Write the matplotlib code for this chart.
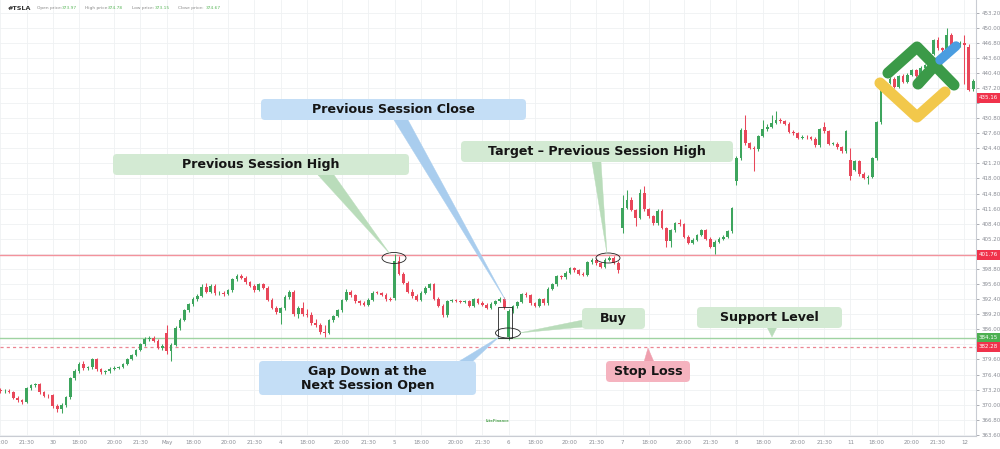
import matplotlib
matplotlib.use('Agg')
import matplotlib.pyplot as plt
from matplotlib.patches import FancyBboxPatch, Ellipse, Rectangle, Polygon
from matplotlib.transforms import IdentityTransform
import numpy as np

# ---------------- data (15-minute candles, TSLA) ----------------
opens = [373.2, 372.8, 373.0, 372.7, 371.5, 370.9, 370.6, 373.5, 374.1, 374.3, 372.6, 371.9,
         372.0, 369.7, 369.0, 369.9, 371.6, 375.6, 377.1, 378.6, 377.8, 377.9, 379.6, 377.5, 376.9, 377.1, 377.6, 377.8, 378.0, 378.7, 379.7, 380.6, 381.6, 382.8, 383.9, 384.1, 383.6, 382.1,
         385.2, 381.3, 382.7, 386.3, 388.0, 390.0, 391.3, 392.5, 393.1, 395.0, 394.0, 395.2, 393.6, 393.8, 393.5, 394.3, 396.6, 397.4, 396.9, 396.0, 395.2, 394.4, 395.5, 394.8, 392.2, 390.5,
         389.4, 390.5, 392.8, 394.0, 389.2, 390.5, 389.2, 389.0, 387.4, 386.8, 385.5, 385.2, 387.9, 388.8, 390.0, 392.2, 393.9, 393.2, 391.9, 391.5, 391.2, 392.3, 393.8, 393.7, 393.3, 392.4,
         392.6, 400.4, 397.8, 395.8, 394.0, 393.0, 392.2, 393.8, 394.8, 395.5, 392.5, 391.0, 389.0, 392.0, 392.1, 392.0, 391.8, 392.0, 391.0, 392.4, 391.6, 391.2, 390.5, 391.4, 392.0, 392.5,
         384.4, 389.8, 390.9, 391.8, 393.5, 393.2, 391.5, 391.0, 392.4, 391.5, 394.6, 395.5, 397.2, 397.0, 398.0, 399.0, 398.5, 397.8, 397.5, 400.2, 400.8, 400.0, 399.2, 400.8, 401.2, 400.1,
         407.5, 411.8, 413.5, 411.3, 409.7, 415.0, 411.5, 410.0, 408.5, 411.2, 407.5, 404.8, 407.0, 408.5, 408.3, 405.6, 404.3, 405.0, 406.0, 407.0, 405.2, 403.5, 404.6, 405.2, 405.6, 406.8,
         417.5, 422.3, 428.3, 425.5, 424.5, 424.2, 427.0, 428.4, 429.0, 429.8, 430.5, 430.1, 429.6, 427.9, 427.6, 426.6, 426.9, 426.7, 426.4, 425.0, 429.0, 428.0, 425.3, 425.4, 424.6, 423.8,
         422.0, 419.8, 421.6, 419.0, 418.1, 418.4, 422.3, 429.9, 437.5, 438.3, 439.2, 437.4, 439.7, 438.5, 440.0, 441.0, 439.8, 441.5, 442.0, 444.5, 447.3, 445.6, 445.2, 448.5, 445.6, 446.5,
         446.8, 446.0, 437.0]
closes = [372.8, 373.0, 372.7, 371.5, 370.9, 370.6, 373.5, 374.1, 374.3, 372.6, 371.9, 371.8,
          369.7, 369.0, 369.9, 371.6, 375.6, 377.1, 378.6, 377.8, 377.9, 379.6, 377.5, 376.9, 377.1, 377.6, 377.8, 378.0, 378.7, 379.7, 380.6, 381.6, 382.8, 383.9, 384.1, 383.6, 382.1, 382.4,
          381.3, 382.7, 386.3, 388.0, 390.0, 391.3, 392.5, 393.1, 395.0, 394.0, 395.2, 393.6, 393.8, 393.5, 394.3, 396.6, 397.4, 396.9, 396.0, 395.2, 394.4, 395.5, 394.8, 392.2, 390.5, 389.6,
          390.5, 392.8, 394.0, 389.2, 390.5, 389.2, 389.0, 387.4, 386.8, 385.5, 385.2, 387.9, 388.8, 390.0, 392.2, 393.9, 393.2, 391.9, 391.5, 391.2, 392.3, 393.8, 393.7, 393.3, 392.4, 392.3,
          400.4, 397.8, 395.8, 394.0, 393.0, 392.2, 393.8, 394.8, 395.5, 392.5, 391.0, 389.0, 392.0, 392.1, 392.0, 391.8, 392.0, 391.0, 392.4, 391.6, 391.2, 390.5, 391.4, 392.0, 392.5, 390.7,
          389.8, 390.9, 391.8, 393.5, 393.2, 391.5, 391.0, 392.4, 391.5, 394.6, 395.5, 397.2, 397.0, 398.0, 399.0, 398.5, 397.8, 397.5, 400.2, 400.8, 400.0, 399.2, 400.8, 401.2, 400.1, 398.6,
          411.8, 413.5, 411.3, 409.7, 415.0, 411.5, 410.0, 408.5, 411.2, 407.5, 404.8, 407.0, 408.5, 408.3, 405.6, 404.3, 405.0, 406.0, 407.0, 405.2, 403.5, 404.6, 405.2, 405.6, 406.8, 411.7,
          422.3, 428.3, 425.5, 424.5, 424.2, 427.0, 428.4, 429.0, 429.8, 430.5, 430.1, 429.6, 427.9, 427.6, 426.6, 426.9, 426.7, 426.4, 425.0, 428.5, 428.0, 425.3, 425.4, 424.6, 423.8, 428.0,
          418.6, 421.6, 419.0, 418.1, 418.4, 422.3, 429.9, 437.5, 438.3, 439.2, 437.4, 439.7, 438.5, 440.0, 441.0, 439.8, 441.5, 442.0, 444.5, 447.3, 445.6, 445.2, 448.5, 445.6, 446.5, 446.8,
          446.3, 436.8, 438.6]
highs = [373.6, 373.4, 373.3, 373.0, 371.8, 371.2, 373.8, 374.4, 374.6, 374.5, 372.9, 372.3,
         372.3, 370.2, 370.3, 371.9, 375.9, 377.5, 379.0, 379.3, 378.3, 380.0, 379.9, 377.8, 377.4, 377.9, 378.1, 378.3, 378.9, 380.0, 380.8, 381.9, 383.1, 384.3, 384.6, 384.5, 383.9, 382.8,
         386.9, 383.1, 386.6, 388.3, 390.3, 391.6, 392.8, 393.4, 395.6, 395.9, 395.6, 395.5, 394.2, 394.1, 394.5, 396.9, 397.8, 397.7, 397.2, 396.3, 395.6, 395.8, 395.9, 395.1, 392.6, 391.0,
         390.8, 393.2, 394.4, 394.3, 390.9, 391.8, 390.3, 389.6, 388.1, 387.3, 386.8, 388.2, 389.1, 390.3, 392.5, 394.6, 394.3, 393.5, 392.2, 391.9, 392.6, 394.1, 394.2, 394.0, 393.6, 392.8,
         401.9, 401.6, 398.2, 396.2, 394.5, 393.5, 394.1, 395.2, 395.9, 395.8, 392.8, 391.3, 392.3, 392.4, 392.4, 392.3, 392.3, 392.3, 392.7, 392.7, 391.9, 391.5, 391.7, 392.3, 392.8, 392.8,
         390.2, 391.2, 392.1, 393.8, 393.9, 393.5, 391.8, 392.7, 392.7, 394.9, 395.8, 397.5, 397.5, 398.3, 399.3, 399.3, 398.8, 398.1, 400.5, 401.1, 401.1, 400.3, 401.1, 401.6, 401.5, 400.4,
         414.5, 415.5, 414.0, 411.6, 415.8, 416.3, 411.8, 410.3, 411.5, 411.5, 407.8, 407.3, 408.8, 409.4, 408.6, 405.9, 405.3, 406.3, 407.3, 407.3, 405.5, 404.9, 405.5, 405.9, 407.1, 412.0,
         422.8, 428.8, 431.5, 425.8, 424.8, 427.3, 430.5, 429.6, 431.5, 432.3, 430.8, 430.4, 429.9, 428.2, 427.9, 427.2, 427.2, 427.0, 426.7, 428.8, 430.0, 428.3, 425.8, 425.7, 424.9, 428.3,
         424.5, 421.9, 421.9, 419.3, 418.7, 422.6, 430.2, 438.0, 438.7, 439.5, 439.6, 440.0, 440.1, 440.3, 441.3, 441.3, 441.8, 442.3, 444.8, 447.6, 448.1, 446.0, 449.9, 448.8, 446.8, 447.2,
         448.5, 446.5, 439.0]
lows = [372.5, 372.4, 372.4, 371.2, 370.6, 370.2, 370.4, 373.2, 373.8, 372.3, 371.6, 371.5,
        369.3, 368.4, 368.2, 369.5, 371.3, 375.2, 376.8, 377.4, 377.4, 377.6, 377.2, 376.6, 376.6, 376.8, 377.3, 377.5, 377.8, 378.4, 379.4, 380.3, 381.3, 382.5, 383.5, 383.2, 381.8, 381.7,
        380.8, 379.3, 382.4, 385.9, 387.7, 389.6, 391.0, 392.1, 392.8, 393.6, 393.7, 393.3, 393.2, 393.1, 393.2, 394.0, 396.3, 396.6, 395.7, 394.9, 394.0, 394.1, 394.5, 391.9, 390.2, 389.3,
        387.2, 390.1, 392.4, 388.9, 388.4, 388.8, 388.7, 387.0, 386.5, 385.1, 384.4, 384.9, 387.6, 388.5, 389.7, 391.9, 392.9, 391.6, 391.2, 390.9, 390.9, 392.0, 393.4, 393.0, 392.1, 392.0,
        392.2, 397.5, 395.5, 393.7, 392.7, 391.9, 391.9, 393.5, 394.4, 392.2, 390.7, 388.6, 388.7, 391.7, 391.7, 391.5, 391.5, 390.7, 390.7, 391.3, 390.9, 390.2, 390.2, 391.1, 391.7, 390.4,
        383.8, 389.4, 390.6, 391.5, 392.9, 391.2, 390.7, 390.7, 391.2, 391.2, 394.3, 395.2, 396.7, 396.7, 397.7, 398.2, 397.5, 397.2, 397.2, 399.9, 399.7, 398.9, 398.9, 400.5, 399.8, 398.0,
        406.5, 411.5, 411.0, 408.0, 409.4, 411.2, 409.7, 408.2, 408.2, 407.2, 403.4, 403.5, 406.7, 408.0, 405.3, 404.0, 404.0, 404.7, 405.7, 404.9, 403.2, 402.0, 404.3, 404.9, 405.3, 406.5,
        416.6, 422.0, 425.2, 424.2, 419.6, 423.9, 426.7, 428.1, 428.7, 429.5, 429.8, 429.3, 427.6, 427.3, 426.3, 426.3, 426.4, 426.1, 424.7, 424.7, 427.7, 425.0, 425.0, 424.3, 423.5, 423.5,
        417.6, 419.5, 418.6, 417.8, 416.9, 418.1, 422.0, 429.6, 437.2, 438.0, 437.1, 437.1, 438.2, 438.2, 439.7, 439.5, 439.5, 441.2, 441.7, 444.2, 445.3, 443.0, 444.9, 445.3, 445.3, 446.0,
        438.0, 436.5, 436.6]

tick_idx = [0, 6, 12, 18, 26, 32, 38, 44, 52, 58, 64, 70, 78, 84, 90, 96, 104, 110,
            116, 122, 130, 136, 142, 148, 156, 162, 168, 174, 182, 188, 194, 200, 208, 214, 220]
tick_labels = ['20:00', '21:30', '30', '18:00', '20:00', '21:30', 'May', '18:00', '20:00', '21:30',
               '4', '18:00', '20:00', '21:30', '5', '18:00', '20:00', '21:30',
               '6', '18:00', '20:00', '21:30', '7', '18:00', '20:00', '21:30',
               '8', '18:00', '20:00', '21:30', '11', '18:00', '20:00', '21:30', '12']
ytick_vals = [363.6, 366.8, 370.0, 373.2, 376.4, 379.6, 382.8, 386.0, 389.2, 392.4, 395.6, 398.8,
              402.0, 405.2, 408.4, 411.6, 414.8, 418.0, 421.2, 424.4, 427.6, 430.8, 434.0, 437.2,
              440.4, 443.6, 446.8, 450.0, 453.2]
# tick values whose labels are hidden behind the price tags
hidden_ticks = [382.8, 402.0, 434.0]

prev_high = 401.76
support = 384.15
stop_loss = 382.28
last_price = 435.16

# ---------------- figure ----------------
W, H = 1000, 449
fig = plt.figure(figsize=(W / 100, H / 100), dpi=100)
fig.patch.set_facecolor('white')
ax = fig.add_axes([0, 1 - 436 / H, 0.976, 436 / H])
ax.set_facecolor('white')

o = np.array(opens); c = np.array(closes); hi = np.array(highs); lo = np.array(lows)
n = len(c)
x = np.arange(n)
UP, DN = '#3da55d', '#e8475a'
cols = np.where(c >= o, UP, DN)

ax.set_xlim(-0.05, 222.65)
ax.set_ylim(363.35, 455.87)

ax.grid(True, color='#eff1f3', lw=0.6, zorder=0)
ax.set_axisbelow(True)

ax.vlines(x, lo, hi, colors=cols, lw=0.75, zorder=3)
ax.bar(x, np.maximum(np.abs(c - o), 0.12), bottom=np.minimum(o, c), width=0.62,
       color=cols, linewidth=0, zorder=4)

ax.axhline(prev_high, color='#f3929c', lw=1.0, zorder=2)
ax.axhline(support, color='#9fd3a2', lw=1.0, zorder=2)
ax.axhline(stop_loss, color='#ec8592', lw=0.9, ls=(0, (2.5, 2.5)), zorder=2)

ax.set_xticks(tick_idx)
ax.set_xticklabels(tick_labels)
ax.set_yticks(ytick_vals)
ax.set_yticklabels(['' if v in hidden_ticks else f'{v:.2f}' for v in ytick_vals])
ax.yaxis.tick_right()
ax.tick_params(axis='both', labelsize=4.0, colors='#8a8d95', length=2, width=0.5, pad=2)
ax.tick_params(axis='x', length=0, pad=3)
for s in ['top', 'left']:
    ax.spines[s].set_visible(False)
for s in ['right', 'bottom']:
    ax.spines[s].set_color('#c9ccd3')
    ax.spines[s].set_linewidth(0.8)

ID = IdentityTransform()

def P(xp, yp):
    return (xp, H - yp)

# price labels on right axis
def price_tag(val, color):
    yd = ax.transData.transform((0, val))[1]
    r = Rectangle((977, yd - 5), 24, 10, transform=ID, facecolor=color, edgecolor='none',
                  zorder=10, clip_on=False)
    fig.patches.append(r)
    fig.text(979, yd, f'{val:.2f}', transform=ID, fontsize=4.0,
             color='white', va='center', ha='left', zorder=11)

price_tag(prev_high, '#f0324b')
price_tag(support, '#4caf50')
price_tag(stop_loss, '#f0324b')
price_tag(last_price, '#f0324b')

# header
fig.text(8, H - 8, '#TSLA', transform=ID, fontsize=4.6, fontweight='bold', color='#333333', va='center')
hdr = [(37, 'Open price:', 62, '373.97'), (85, 'High price:', 108, '374.78'),
       (132, 'Low price:', 155, '373.15'), (178, 'Close price:', 206, '374.67')]
for x1, t1, x2, t2 in hdr:
    fig.text(x1, H - 8, t1, transform=ID, fontsize=3.2, color='#888888', va='center')
    fig.text(x2, H - 8, t2, transform=ID, fontsize=3.2, color='#5cb85c', va='center')

# annotation boxes
GREEN_BOX, BLUE_BOX, PINK_BOX = '#d3ead3', '#c4def6', '#f5b3bf'
GREEN_PTR, BLUE_PTR, PINK_PTR = '#b9dcba', '#a9cdee', '#ef9fae'
FONT = dict(fontsize=9.1, fontweight='bold', color='#151515', family='DejaVu Sans')

def box(x0, y0, x1, y1, fc, text):
    b = FancyBboxPatch(P(x0, y1), x1 - x0, y1 - y0, boxstyle='round,pad=0,rounding_size=4',
                       transform=ID, facecolor=fc, edgecolor='none', zorder=20)
    fig.patches.append(b)
    fig.text((x0 + x1) / 2, H - (y0 + y1) / 2, text, transform=ID, ha='center', va='center',
             zorder=21, linespacing=1.1, **FONT)

def ptr(pts, fc):
    poly = Polygon([P(*p) for p in pts], closed=True, transform=ID, facecolor=fc,
                   edgecolor=fc, lw=0.3, zorder=19)
    fig.patches.append(poly)

ptr([(394, 120), (408, 120), (506, 301)], BLUE_PTR)
ptr([(318, 175), (334, 175), (390, 254)], GREEN_PTR)
ptr([(592, 162), (601, 162), (607, 254)], GREEN_PTR)
ptr([(583, 320), (583, 327), (519, 333)], GREEN_PTR)
ptr([(767, 327), (777, 327), (772, 337)], GREEN_PTR)
ptr([(644, 362), (654, 362), (648, 348)], PINK_PTR)
ptr([(458, 362), (472, 362), (499, 337)], BLUE_PTR)

box(261, 99, 526, 120, BLUE_BOX, 'Previous Session Close')
box(113, 154, 409, 175, GREEN_BOX, 'Previous Session High')
box(461, 141, 733, 162, GREEN_BOX, 'Target – Previous Session High')
box(582, 308, 645, 329, GREEN_BOX, 'Buy')
box(697, 307, 842, 328, GREEN_BOX, 'Support Level')
box(606, 361, 690, 382, PINK_BOX, 'Stop Loss')
box(259, 361, 476, 395, BLUE_BOX, 'Gap Down at the\nNext Session Open')

# ellipses & rectangle
for cx, cy, w, h in [(394, 258, 24, 11), (608, 258, 24, 10), (508, 333, 25, 10)]:
    e = Ellipse(P(cx, cy), w, h, transform=ID, facecolor='none', edgecolor='#222222',
                lw=0.6, zorder=15)
    fig.patches.append(e)
fig.patches.append(Rectangle(P(498, 338), 14, 31, transform=ID, facecolor='none',
                             edgecolor='#222222', lw=0.6, zorder=15))

# logo
LW = 8.0
fig.lines.append(plt.Line2D([880, 917, 945], [H - 83, H - 117, H - 92], transform=ID,
                            color='#f2c84b', lw=LW, solid_capstyle='round', solid_joinstyle='round', zorder=30))
fig.lines.append(plt.Line2D([888, 917, 954], [H - 73, H - 47, H - 85], transform=ID,
                            color='#3b9a48', lw=LW, solid_capstyle='round', solid_joinstyle='round', zorder=31))
fig.lines.append(plt.Line2D([918, 937], [H - 84, H - 63], transform=ID,
                            color='#3b9a48', lw=LW, solid_capstyle='round', zorder=31))
fig.lines.append(plt.Line2D([940, 956], [H - 60, H - 46], transform=ID,
                            color='#4a9de0', lw=LW * 0.85, solid_capstyle='round', zorder=32))

# small watermark
fig.text(497, H - 421, 'LiteFinance', transform=ID, fontsize=2.6, color='#5aa85a',
         ha='center', va='center', fontweight='bold')

fig.savefig('out.png', dpi=100)
